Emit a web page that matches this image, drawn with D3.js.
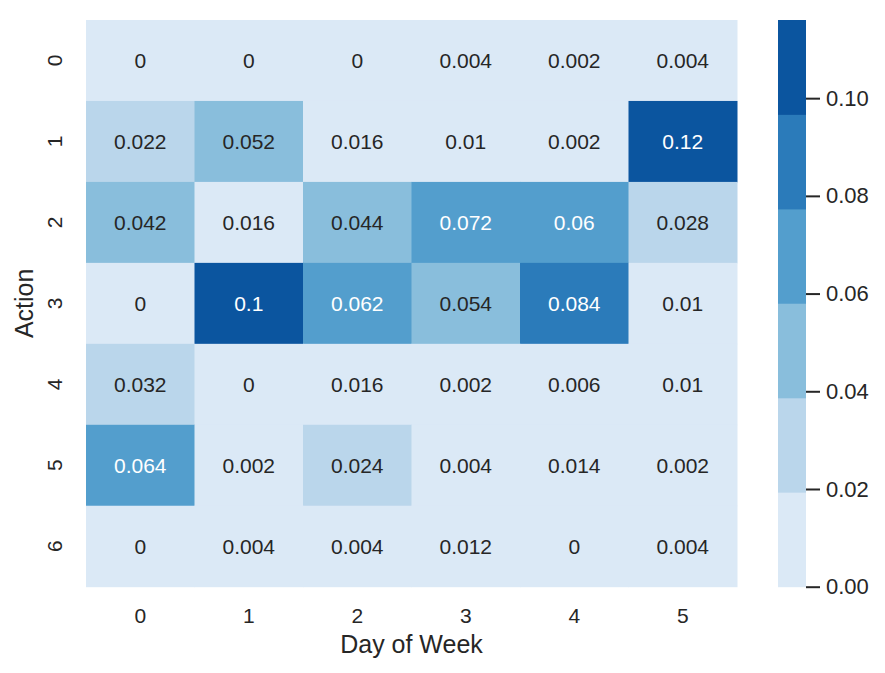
<!DOCTYPE html>
<html>
<head>
<meta charset="utf-8">
<script src="https://cdn.jsdelivr.net/npm/d3@7/dist/d3.min.js"></script>
<style>
  html, body { margin: 0; padding: 0; background: #ffffff; }
  svg { display: block; font-family: "Liberation Sans", Arial, "DejaVu Sans", sans-serif; }
</style>
</head>
<body>
<svg id="chart" width="885" height="673"></svg>
<script>
// ---- data ----
const days = [0, 1, 2, 3, 4, 5];
const actions = [0, 1, 2, 3, 4, 5, 6];
const values = [
  [0, 0, 0, 0.004, 0.002, 0.004],
  [0.022, 0.052, 0.016, 0.01, 0.002, 0.116],
  [0.042, 0.016, 0.044, 0.072, 0.06, 0.028],
  [0, 0.1, 0.062, 0.054, 0.084, 0.01],
  [0.032, 0, 0.016, 0.002, 0.006, 0.01],
  [0.064, 0.002, 0.024, 0.004, 0.014, 0.002],
  [0, 0.004, 0.004, 0.012, 0, 0.004]
];
const palette = ["#dbe9f6", "#bad6eb", "#89bedc", "#539ecd", "#2b7bba", "#0b559f"];
const colorbarTicks = [0, 0.02, 0.04, 0.06, 0.08, 0.10];
const xLabel = "Day of Week";
const yLabel = "Action";

// ---- layout ----
const plotLeft = 86, plotRight = 737, plotTop = 20, plotBottom = 586.7;
const cbLeft = 778, cbRight = 806;
const textDark = "#262626";

const svg = d3.select("#chart");
const vmax = d3.max(values.flat());

const x = d3.scaleBand().domain(days).range([plotLeft, plotRight]);
const y = d3.scaleBand().domain(actions).range([plotTop, plotBottom]);
const color = d3.scaleQuantize().domain([0, vmax]).range(palette);
const fmt = d3.format(".2~g");

const cells = [];
values.forEach((row, i) => row.forEach((v, j) => cells.push({ a: actions[i], d: days[j], v })));

function lum(hex) {
  const c = d3.rgb(hex);
  const f = u => { u /= 255; return u <= 0.03928 ? u / 12.92 : Math.pow((u + 0.055) / 1.055, 2.4); };
  return 0.2126 * f(c.r) + 0.7152 * f(c.g) + 0.0722 * f(c.b);
}

const g = svg.append("g");
g.selectAll("rect.cell").data(cells).join("rect")
  .attr("class", "cell")
  .attr("x", d => x(d.d)).attr("y", d => y(d.a))
  .attr("width", x.bandwidth() + 0.5).attr("height", y.bandwidth() + 0.5)
  .attr("fill", d => color(d.v));

g.selectAll("text.annot").data(cells).join("text")
  .attr("class", "annot")
  .attr("x", d => x(d.d) + x.bandwidth() / 2)
  .attr("y", d => y(d.a) + y.bandwidth() / 2)
  .attr("dy", "0.36em")
  .attr("text-anchor", "middle")
  .attr("font-size", 21)
  .attr("fill", d => lum(color(d.v)) > 0.408 ? textDark : "#ffffff")
  .text(d => fmt(d.v));

// x tick labels
svg.append("g").selectAll("text").data(days).join("text")
  .attr("x", d => x(d) + x.bandwidth() / 2)
  .attr("y", 623)
  .attr("text-anchor", "middle")
  .attr("font-size", 21)
  .attr("fill", textDark)
  .text(d => d);

// y tick labels (rotated)
svg.append("g").selectAll("text").data(actions).join("text")
  .attr("transform", d => `translate(62,${y(d) + y.bandwidth() / 2}) rotate(-90)`)
  .attr("text-anchor", "middle")
  .attr("font-size", 21)
  .attr("fill", textDark)
  .text(d => d);

// axis labels
svg.append("text")
  .attr("x", (plotLeft + plotRight) / 2).attr("y", 652.5)
  .attr("text-anchor", "middle")
  .attr("font-size", 25)
  .attr("fill", textDark)
  .text(xLabel);

svg.append("text")
  .attr("transform", `translate(33,${(plotTop + plotBottom) / 2}) rotate(-90)`)
  .attr("text-anchor", "middle")
  .attr("font-size", 25)
  .attr("fill", textDark)
  .text(yLabel);

// colorbar
const cy = d3.scaleLinear().domain([0, vmax]).range([plotBottom, plotTop]);
const bands = palette.map(c => {
  const ext = color.invertExtent(c);
  return { c, lo: ext[0], hi: ext[1] };
});
const cb = svg.append("g");
cb.selectAll("rect").data(bands).join("rect")
  .attr("x", cbLeft).attr("width", cbRight - cbLeft)
  .attr("y", d => cy(d.hi)).attr("height", d => cy(d.lo) - cy(d.hi) + 0.5)
  .attr("fill", d => d.c);

const cbAxis = d3.axisRight(cy).tickValues(colorbarTicks).tickFormat(d3.format(".2f"))
  .tickSize(14).tickPadding(6);
const axG = svg.append("g").attr("transform", `translate(${cbRight},0)`).call(cbAxis);
axG.select(".domain").remove();
axG.selectAll(".tick line").attr("stroke", textDark).attr("stroke-width", 2);
axG.selectAll(".tick text").attr("fill", textDark).attr("font-size", 22)
  .attr("font-family", "Liberation Sans, Arial, sans-serif");
</script>
</body>
</html>
